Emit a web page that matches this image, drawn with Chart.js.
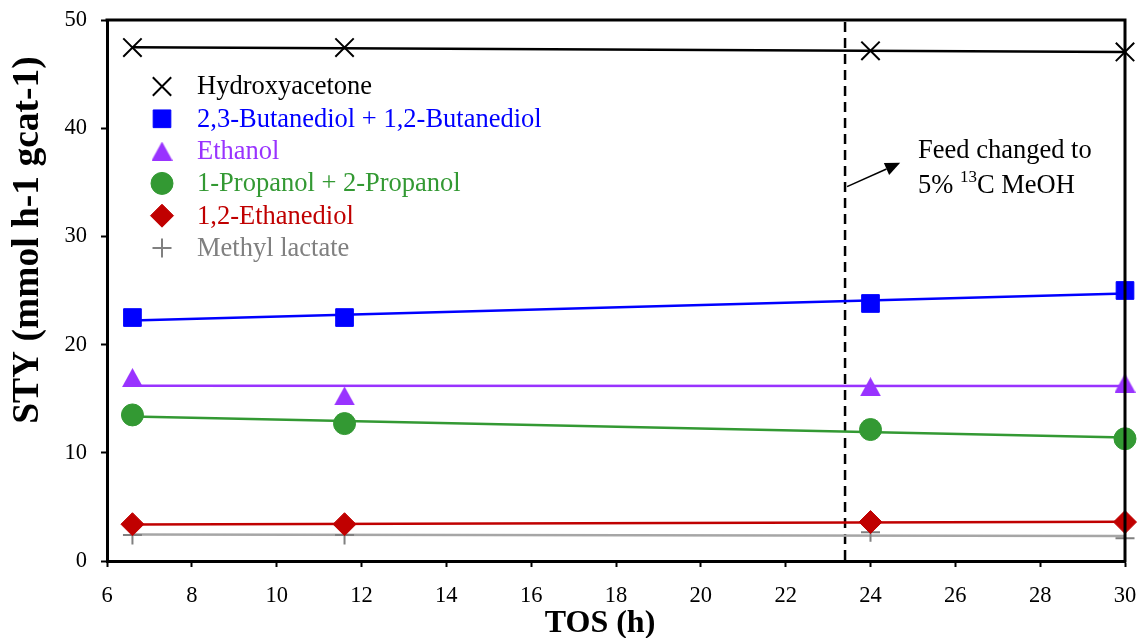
<!DOCTYPE html>
<html><head><meta charset="utf-8">
<script src="https://cdn.jsdelivr.net/npm/chart.js@4/dist/chart.umd.min.js"></script>
<style>html,body{margin:0;padding:0;background:#fff;}#wrap{width:1140px;height:638px;}</style>
</head><body><div id="wrap"><canvas id="c" width="1140" height="638"></canvas></div>
<script>
// ---- data ----
const tos = [6.6, 11.6, 24, 30];
const hydroxyacetone = [47.45, 47.45, 47.15, 47.05];
const butanediols = [22.5, 22.5, 23.8, 25.0];
const ethanol = [16.95, 15.25, 16.1, 16.45];
const propanols = [13.5, 12.7, 12.15, 11.3];
const ethanediol = [3.4, 3.4, 3.6, 3.6];
const methylLactate = [2.4, 2.4, 2.65, 2.1];
const seriesNames = ['Hydroxyacetone', '2,3-Butanediol + 1,2-Butanediol', 'Ethanol',
  '1-Propanol + 2-Propanol', '1,2-Ethanediol', 'Methyl lactate'];
const xTicks = [6, 8, 10, 12, 14, 16, 18, 20, 22, 24, 26, 28, 30];
const yTicks = [0, 10, 20, 30, 40, 50];
const feedChangeTOS = 23.4;
const xTitle = 'TOS (h)';
const yTitle = 'STY (mmol h-1 gcat-1)';
const noteLine1 = 'Feed changed to';
const noteLine2a = '5% ', noteSup = '13', noteLine2b = 'C MeOH';

// ---- helpers ----
function linFit(xs, ys) {
  const n = xs.length;
  const mx = xs.reduce((a, b) => a + b, 0) / n, my = ys.reduce((a, b) => a + b, 0) / n;
  let sxy = 0, sxx = 0;
  for (let i = 0; i < n; i++) { sxy += (xs[i] - mx) * (ys[i] - my); sxx += (xs[i] - mx) ** 2; }
  const b = sxy / sxx, a = my - b * mx;
  return x => a + b * x;
}
function triImage(color, w, h) {
  const c = document.createElement('canvas'); c.width = w; c.height = h;
  const g = c.getContext('2d'); g.fillStyle = color;
  g.beginPath(); g.moveTo(w / 2, 0); g.lineTo(w, h); g.lineTo(0, h); g.closePath(); g.fill();
  return c;
}
const SERIF = '"Liberation Serif", "Times New Roman", serif';

const styles = [
  {pointStyle: 'crossRot', radius: 13, bg: '#000', border: '#000', bw: 2, line: '#000', text: '#000'},
  {pointStyle: 'rect', radius: 12.5, bg: '#0000FF', border: '#0000FF', bw: 1, line: '#0000FF', text: '#0000FF'},
  {pointStyle: triImage('#9933FF', 21, 19), radius: 11, bg: '#9933FF', border: '#9933FF', bw: 0, line: '#9933FF', text: '#9933FF'},
  {pointStyle: 'circle', radius: 11, bg: '#339933', border: '#339933', bw: 1, line: '#339933', text: '#339933'},
  {pointStyle: 'rectRot', radius: 11.5, bg: '#C00000', border: '#C00000', bw: 1, line: '#C00000', text: '#C00000'},
  {pointStyle: 'cross', radius: 9.5, bg: '#808080', border: '#808080', bw: 2, line: '#A6A6A6', text: '#808080'}
];
const allSeries = [hydroxyacetone, butanediols, ethanol, propanols, ethanediol, methylLactate];

const datasets = [];
allSeries.forEach((vals, i) => {
  const s = styles[i];
  datasets.push({
    label: seriesNames[i], type: 'scatter',
    data: tos.map((x, j) => ({x: x, y: vals[j]})),
    pointStyle: s.pointStyle, pointRadius: s.radius, pointHoverRadius: s.radius,
    backgroundColor: s.bg, borderColor: s.border, borderWidth: s.bw,
    showLine: false, order: 0, clip: false
  });
  const f = linFit(tos, vals);
  const x0 = tos[0], x1 = tos[tos.length - 1];
  datasets.push({
    label: seriesNames[i] + ' trend', type: 'line',
    data: [{x: x0, y: f(x0)}, {x: x1, y: f(x1)}],
    borderColor: s.line, borderWidth: 2.5, pointRadius: 0, pointHoverRadius: 0,
    fill: false, tension: 0, order: 1, clip: false
  });
});

const decor = {
  id: 'decor',
  beforeDatasetsDraw(chart) {
    const {ctx, chartArea: a, scales: {x}} = chart;
    const px = x.getPixelForValue(feedChangeTOS);
    ctx.save();
    ctx.strokeStyle = '#000'; ctx.lineWidth = 2.5; ctx.setLineDash([10, 6]);
    ctx.beginPath(); ctx.moveTo(px, a.top + 2); ctx.lineTo(px, a.bottom); ctx.stroke();
    ctx.restore();
  },
  afterDraw(chart) {
    const {ctx, chartArea: a, scales: {x, y}} = chart;
    ctx.save();
    // top & right frame
    ctx.strokeStyle = '#000'; ctx.lineWidth = 3;
    ctx.beginPath(); ctx.moveTo(a.left - 1.5, a.top); ctx.lineTo(a.right, a.top); ctx.lineTo(a.right, a.bottom + 1.5); ctx.stroke();

    // arrow
    const sx = x.getPixelForValue(feedChangeTOS) + 2, sy = y.getPixelForValue(34.6);
    const ex = x.getPixelForValue(24.7), ey = y.getPixelForValue(36.8);
    const ang = Math.atan2(ey - sy, ex - sx), L = 15, W = 6.5;
    const bx = ex - L * Math.cos(ang), by = ey - L * Math.sin(ang);
    ctx.lineWidth = 1.5; ctx.beginPath(); ctx.moveTo(sx, sy); ctx.lineTo(bx, by); ctx.stroke();
    ctx.fillStyle = '#000'; ctx.beginPath(); ctx.moveTo(ex, ey);
    ctx.lineTo(bx + W * Math.sin(ang), by - W * Math.cos(ang));
    ctx.lineTo(bx - W * Math.sin(ang), by + W * Math.cos(ang)); ctx.closePath(); ctx.fill();

    // note text
    const tx = x.getPixelForValue(25.12);
    ctx.font = '26.5px ' + SERIF; ctx.textBaseline = 'alphabetic'; ctx.textAlign = 'left';
    ctx.fillText(noteLine1, tx, 158);
    ctx.fillText(noteLine2a, tx, 193);
    let w = ctx.measureText(noteLine2a).width;
    ctx.font = '17px ' + SERIF; ctx.fillText(noteSup, tx + w, 182);
    w += ctx.measureText(noteSup).width;
    ctx.font = '26.5px ' + SERIF; ctx.fillText(noteLine2b, tx + w, 193);

    // legend
    const H = Chart.helpers;
    const lx = 162, tx2 = 197, y0 = 86.5, dy = 32.3;
    styles.forEach((s, i) => {
      const cy = y0 + i * dy;
      ctx.fillStyle = s.bg; ctx.strokeStyle = s.border; ctx.lineWidth = s.bw;
      H.drawPoint(ctx, {pointStyle: s.pointStyle, radius: s.radius, rotation: 0, borderWidth: s.bw}, lx, cy);
      ctx.fillStyle = s.text; ctx.font = '26.5px ' + SERIF; ctx.textBaseline = 'middle';
      ctx.fillText(seriesNames[i], tx2, cy + 1);
    });

    // axis titles
    ctx.fillStyle = '#000'; ctx.textAlign = 'center'; ctx.textBaseline = 'middle';
    ctx.font = 'bold 32px ' + SERIF;
    ctx.fillText(xTitle, 600, 624);
    ctx.translate(28, 240); ctx.rotate(-Math.PI / 2);
    ctx.font = 'bold 37.5px ' + SERIF;
    ctx.fillText(yTitle, 0, 0);
    ctx.restore();
  }
};

const tickFont = {family: SERIF, size: 22.5};
new Chart(document.getElementById('c'), {
  type: 'scatter',
  data: {datasets},
  options: {
    responsive: false, animation: false, events: [],
    layout: {padding: {top: 20, right: 14, left: 0, bottom: 0}},
    plugins: {legend: {display: false}, tooltip: {enabled: false}},
    scales: {
      x: {
        type: 'linear', min: xTicks[0], max: xTicks[xTicks.length - 1],
        afterBuildTicks: s => { s.ticks = xTicks.map(v => ({value: v})); },
        afterFit: s => { s.height = 77; s.paddingLeft = 0; s.paddingRight = 0; },
        grid: {drawOnChartArea: false, drawTicks: true, tickLength: 6, tickWidth: 2, tickColor: '#000'},
        border: {display: true, width: 3, color: '#000'},
        ticks: {font: tickFont, color: '#000', padding: 16, maxRotation: 0, autoSkip: false}
      },
      y: {
        type: 'linear', min: yTicks[0], max: yTicks[yTicks.length - 1],
        afterBuildTicks: s => { s.ticks = yTicks.map(v => ({value: v})); },
        afterFit: s => { s.width = 107; s.paddingTop = 0; s.paddingBottom = 0; },
        grid: {drawOnChartArea: false, drawTicks: true, tickLength: 6, tickWidth: 2, tickColor: '#000'},
        border: {display: true, width: 3, color: '#000'},
        ticks: {font: tickFont, color: '#000', padding: 14, autoSkip: false}
      }
    }
  },
  plugins: [decor]
});
</script></body></html>
